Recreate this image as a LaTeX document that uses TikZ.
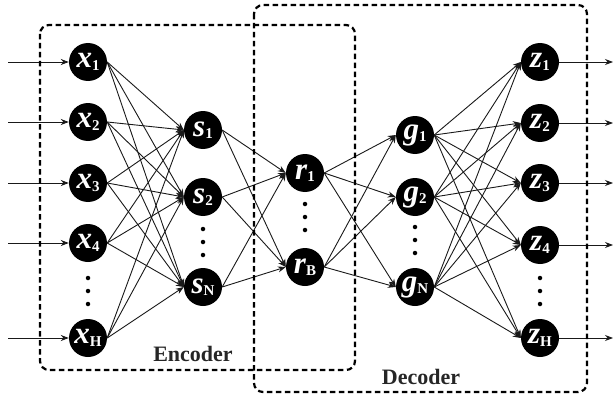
\documentclass[tikz,border=0pt]{standalone}
\usepackage{fontspec}
\setmainfont{Liberation Serif}
\usetikzlibrary{arrows.meta}
\newcommand{\nlab}[2]{{\fontsize{31}{31}\selectfont\bfseries\itshape #1}\raisebox{-2.5pt}{\fontsize{15}{15}\selectfont\bfseries #2}}
\tikzset{
  neuron/.style={circle, fill=black, minimum size=38pt, inner sep=0pt, text=white},
  conn/.style={draw=black!90, line width=0.9pt, -{Stealth[length=8pt,width=6pt]}},
  grp/.style={draw=black, line width=2.2pt, dash pattern=on 5.5pt off 3.5pt, rounded corners=9pt},
  dotc/.style={circle, fill=black, inner sep=0pt, minimum size=4.5pt},
  grplabel/.style={font=\fontsize{22}{22}\selectfont\bfseries, text=black!85}
}
\begin{document}
\begin{tikzpicture}[x=1pt, y=-1pt]
\useasboundingbox (0,0) rectangle (613,396);
% input layer
\node[neuron] (x1) at (88,62) {\nlab{x}{1}};
\node[neuron] (x2) at (88,122) {\nlab{x}{2}};
\node[neuron] (x3) at (88,183) {\nlab{x}{3}};
\node[neuron] (x4) at (88,243) {\nlab{x}{4}};
\node[neuron] (x5) at (88,338) {\nlab{x}{H}};
\node[dotc] (xd1) at (88,278) {};
\node[dotc] (xd2) at (88,291) {};
\node[dotc] (xd3) at (88,304) {};
% encoder hidden
\node[neuron] (s1) at (203,130) {\nlab{s}{1}};
\node[neuron] (s2) at (203,197) {\nlab{s}{2}};
\node[neuron] (s3) at (203,287) {\nlab{s}{N}};
\node[dotc] (sd1) at (203,229) {};
\node[dotc] (sd2) at (203,242) {};
\node[dotc] (sd3) at (203,255) {};
% bottleneck
\node[neuron] (r1) at (305,173) {\nlab{r}{1}};
\node[neuron] (r2) at (305,267) {\nlab{r}{B}};
\node[dotc] (rd1) at (305,204) {};
\node[dotc] (rd2) at (305,217) {};
\node[dotc] (rd3) at (305,230) {};
% decoder hidden
\node[neuron] (g1) at (415,135) {\nlab{g}{1}};
\node[neuron] (g2) at (415,197) {\nlab{g}{2}};
\node[neuron] (g3) at (415,287) {\nlab{g}{N}};
\node[dotc] (gd1) at (415,227) {};
\node[dotc] (gd2) at (415,240) {};
\node[dotc] (gd3) at (415,253) {};
% output layer
\node[neuron] (z1) at (540,62) {\nlab{z}{1}};
\node[neuron] (z2) at (540,123) {\nlab{z}{2}};
\node[neuron] (z3) at (540,183) {\nlab{z}{3}};
\node[neuron] (z4) at (540,245) {\nlab{z}{4}};
\node[neuron] (z5) at (540,338) {\nlab{z}{H}};
\node[dotc] (zd1) at (540,278) {};
\node[dotc] (zd2) at (540,291) {};
\node[dotc] (zd3) at (540,304) {};
% connections
\foreach \a in {x1,x2,x3,x4,x5}
  \foreach \b in {s1,s2,s3}
    \draw[conn] (\a.east) -- (\b.west);
\foreach \a in {s1,s2,s3}
  \foreach \b in {r1,r2}
    \draw[conn] (\a.east) -- (\b.west);
\foreach \a in {r1,r2}
  \foreach \b in {g1,g2,g3}
    \draw[conn] (\a.east) -- (\b.west);
\foreach \a in {g1,g2,g3}
  \foreach \b in {z1,z2,z3,z4,z5}
    \draw[conn] (\a.east) -- (\b.west);
% inputs and outputs
\foreach \n/\y in {1/62,2/122,3/183,4/243,5/338} {
  \coordinate (in\n) at (8,\y);
  \draw[conn] (in\n) -- (x\n.west);
}
\foreach \n/\y in {1/62,2/123,3/183,4/245,5/338} {
  \coordinate (out\n) at (613,\y);
  \draw[conn] (z\n.east) -- (out\n);
}
% groups
\draw[grp] (40,25) rectangle (355,370);
\draw[grp] (254,5) rectangle (587,392);
\node[grplabel] (enc) at (193,354) {Encoder};
\node[grplabel] (dec) at (421,377) {Decoder};
\end{tikzpicture}
\end{document}
